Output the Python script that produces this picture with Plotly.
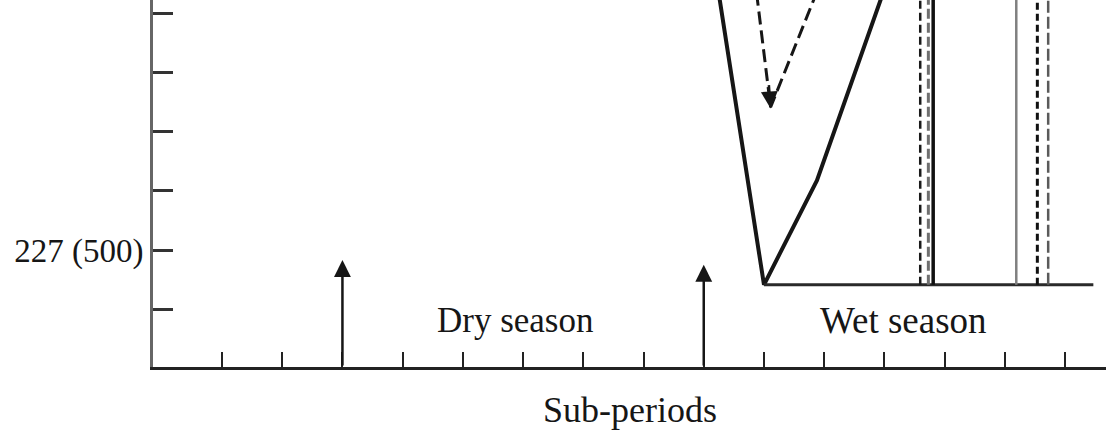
import plotly.graph_objects as go

# Sub-period ticks along the x axis
sub_periods = list(range(1, 16))

# Weight axis, lb (with kg shown for the labelled tick)
weight_ticks = [400, 500, 600, 700, 800, 900]
weight_labels = ["", "227 (500)", "", "", "", ""]

# Season boundaries (sub-period) and arrow tips (lb)
boundary_x = [3, 9]
boundary_tip = [483, 475]

# Solid V-shaped path
solid_x = [9.15, 10.0, 10.88, 12.2]
solid_y = [1000, 441, 618, 1000]

# Dashed V-shaped path ending in an arrow tip
dashed_x = [9.80, 10.11, 11.125]
dashed_y = [1000, 742, 1000]

# Horizontal base line
base_x = [10.0, 15.47]
base_y = [441, 441]

# Vertical lines: position, colour, dash, width
vlines_x = [12.595, 12.73, 12.81, 14.19, 14.54, 14.72]
vlines_color = ["#1a1a1a", "#707070", "#111111", "#808080", "#111111", "#5a5a5a"]
vlines_dash = ["8px,4px", "10px,4px", "solid", "solid", "7px,4px", "12px,4px"]
vlines_width = [2.5, 3, 3.5, 2.5, 3, 2.5]
vline_bottom = 441
vline_top = 1000

x_range = [-0.146, 15.68]
y_range = [301.7, 923.7]

FONT = "Liberation Serif"
INK = "#161616"

fig = go.Figure()

fig.add_trace(go.Scatter(x=solid_x, y=solid_y, mode="lines",
                         line=dict(color=INK, width=4), showlegend=False))
fig.add_trace(go.Scatter(x=dashed_x, y=dashed_y, mode="lines",
                         line=dict(color=INK, width=3, dash="13px,6px"),
                         showlegend=False))
fig.add_trace(go.Scatter(x=base_x, y=base_y, mode="lines",
                         line=dict(color="#2a2a2a", width=3), showlegend=False))

for xv, c, d, w in zip(vlines_x, vlines_color, vlines_dash, vlines_width):
    fig.add_trace(go.Scatter(x=[xv, xv], y=[vline_bottom, vline_top], mode="lines",
                             line=dict(color=c, width=w, dash=d), showlegend=False))

# Arrows marking the start of each season
for bx, tip in zip(boundary_x, boundary_tip):
    fig.add_annotation(x=bx, y=tip, ax=bx, ay=y_range[0], xref="x", yref="y",
                       axref="x", ayref="y", text="", showarrow=True,
                       arrowhead=2, arrowsize=1.35, arrowwidth=2.5, arrowcolor=INK)

# Arrow head at the bottom of the dashed path
fig.add_annotation(x=dashed_x[1], y=dashed_y[1] - 2, ax=dashed_x[1] - 0.03,
                   ay=dashed_y[1] + 40, xref="x", yref="y", axref="x", ayref="y",
                   text="", showarrow=True, arrowhead=2, arrowsize=1.35,
                   arrowwidth=2.5, arrowcolor=INK)

fig.add_annotation(x=5.88, y=381, xref="x", yref="y", text="Dry season",
                   showarrow=False, font=dict(family=FONT, size=35, color=INK))
fig.add_annotation(x=12.31, y=381, xref="x", yref="y", text="Wet season",
                   showarrow=False, font=dict(family=FONT, size=37, color=INK))
fig.add_annotation(x=0.5, y=-0.117, xref="paper", yref="paper", text="Sub-periods",
                   showarrow=False, yanchor="middle",
                   font=dict(family=FONT, size=36, color=INK))

fig.update_xaxes(range=x_range, tickvals=sub_periods,
                 ticktext=[""] * len(sub_periods), ticks="inside", ticklen=15,
                 tickwidth=2, tickcolor="#222", showline=True, linewidth=3,
                 linecolor="#222", showgrid=False, zeroline=False, fixedrange=True)
fig.update_yaxes(range=y_range, tickvals=weight_ticks, ticktext=weight_labels,
                 ticks="inside", ticklen=20, tickwidth=3, tickcolor="#333",
                 showline=True, linewidth=3, linecolor="#666", showgrid=False,
                 zeroline=False, fixedrange=True,
                 tickfont=dict(family=FONT, size=33, color=INK))

fig.update_layout(width=1106, height=432,
                  margin=dict(l=153, r=0, t=0, b=65, autoexpand=False),
                  paper_bgcolor="white", plot_bgcolor="white")

fig.write_html("out.html", config={"displayModeBar": False})
